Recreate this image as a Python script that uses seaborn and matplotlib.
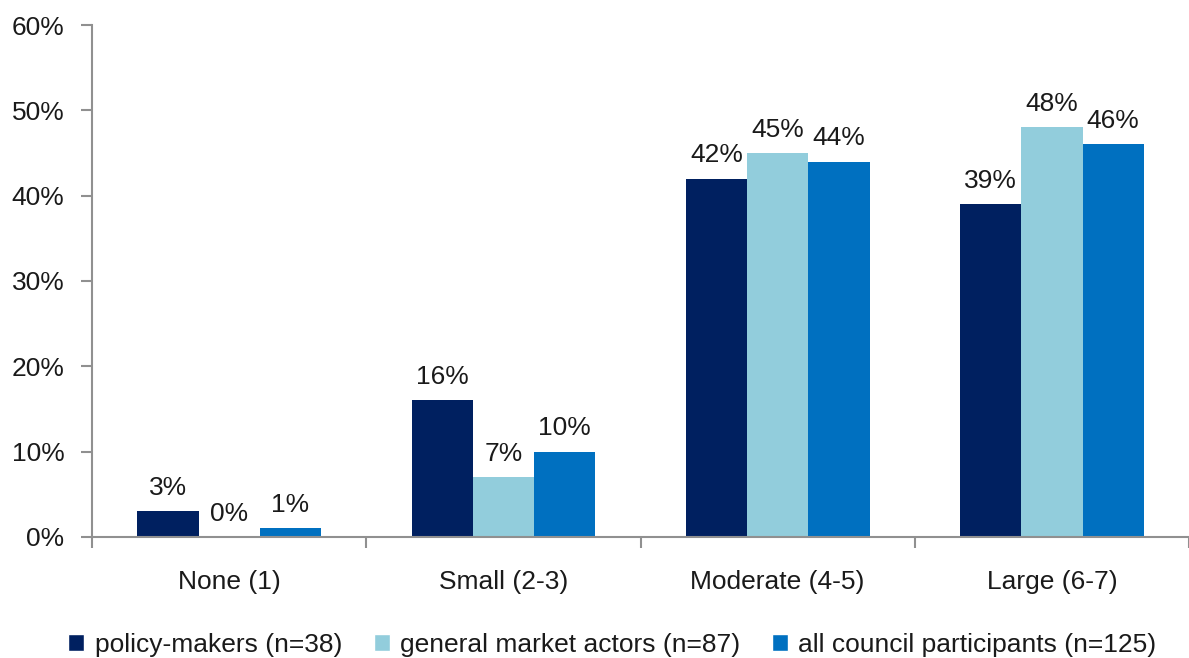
import matplotlib
matplotlib.use("Agg")
import matplotlib.pyplot as plt
import seaborn as sns
import pandas as pd
import numpy as np
from matplotlib.patches import Patch

categories = ["None (1)", "Small (2-3)", "Moderate (4-5)", "Large (6-7)"]
series_names = ["policy-makers (n=38)", "general market actors (n=87)", "all council participants (n=125)"]
policy_makers = [3, 16, 42, 39]
market_actors = [0, 7, 45, 48]
all_council = [1, 10, 44, 46]
colors = ["#002060", "#92CDDC", "#0070C0"]
yticks = [0, 10, 20, 30, 40, 50, 60]

rows = []
for name, vals in zip(series_names, [policy_makers, market_actors, all_council]):
    for c, v in zip(categories, vals):
        rows.append({"category": c, "series": name, "value": v})
df = pd.DataFrame(rows)

sns.set_style("white")
plt.rcParams["font.family"] = ["Liberation Sans", "DejaVu Sans"]

fig = plt.figure(figsize=(11.89, 6.58), dpi=100)
ax = fig.add_axes([0.0774, 0.184, 0.9226, 0.778])
sns.barplot(data=df, x="category", y="value", hue="series", order=categories,
            hue_order=series_names, palette=colors, width=0.67, ax=ax,
            saturation=1, legend=False, linewidth=0)

for cont in ax.containers:
    ax.bar_label(cont, labels=[f"{v:.0f}%" for v in cont.datavalues],
                 padding=8, fontsize=19, color="#1a1a1a")

ax.set_ylim(0, 60)
ax.set_yticks(yticks)
ax.set_yticklabels([f"{t}%" for t in yticks], fontsize=19, color="#1a1a1a")
ax.set_xlim(-0.5, 3.47)
ax.set_xticks(range(len(categories)))
ax.set_xticklabels(categories, fontsize=19, color="#1a1a1a")
ax.tick_params(axis="x", which="major", length=0, pad=24, bottom=True)
ax.set_xticks(np.arange(-0.5, 3.6, 1.0), minor=True)
ax.tick_params(axis="x", which="minor", length=8, width=1.5, color="#909090",
               direction="out", bottom=True)
ax.tick_params(axis="y", length=8, width=1.5, color="#909090", direction="out",
               pad=12, left=True)
ax.set_xlabel("")
ax.set_ylabel("")
for s in ["top", "right"]:
    ax.spines[s].set_visible(False)
for s in ["left", "bottom"]:
    ax.spines[s].set_color("#909090")
    ax.spines[s].set_linewidth(1.5)

handles = [Patch(facecolor=c, label=n) for c, n in zip(colors, series_names)]
fig.legend(handles=handles, loc="center", bbox_to_anchor=(0.515, 0.02), ncol=3,
           frameon=False, fontsize=19, handlelength=0.6, handleheight=0.6,
           handletextpad=0.4, columnspacing=1.2, labelcolor="#1a1a1a")

fig.savefig("out.png", dpi=100)
